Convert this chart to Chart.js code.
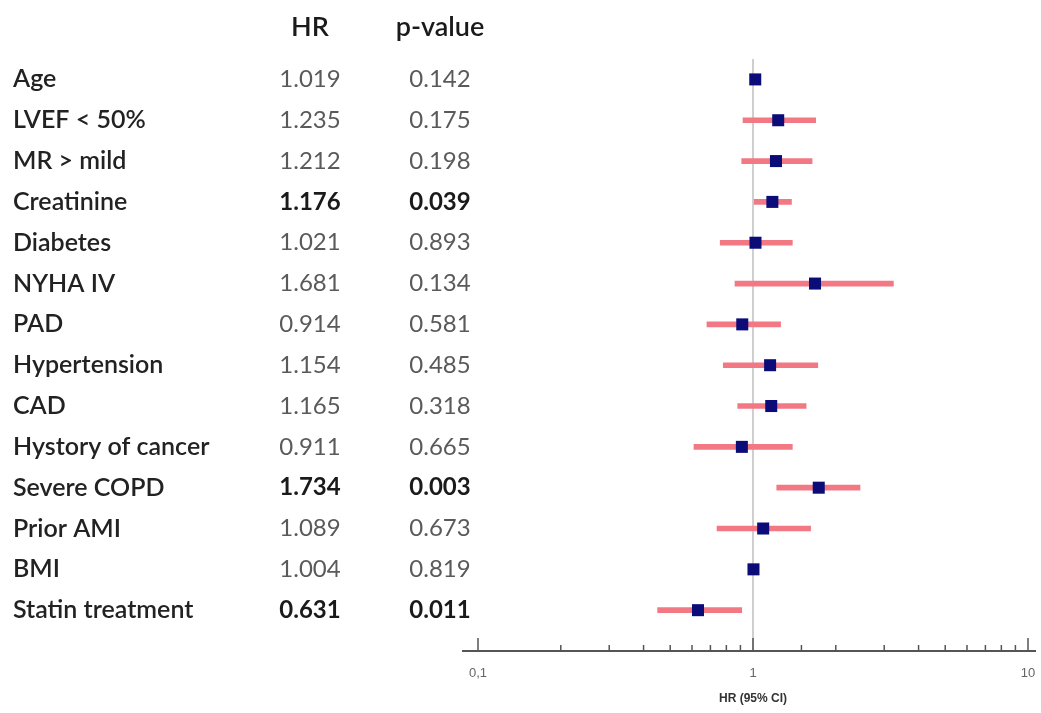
<!DOCTYPE html>
<html>
<head>
<meta charset="utf-8">
<script src="https://cdn.jsdelivr.net/npm/chart.js@4/dist/chart.umd.min.js"></script>
<style>
  html, body { margin: 0; padding: 0; background: #fff; }
  #wrap { width: 1041px; height: 713px; }
</style>
</head>
<body>
<div id="wrap"><canvas id="canvas" width="1041" height="713"></canvas></div>
<script>
'use strict';

// rows, top to bottom
var variables = ['Age', 'LVEF < 50%', 'MR > mild', 'Creatinine', 'Diabetes', 'NYHA IV', 'PAD',
  'Hypertension', 'CAD', 'Hystory of cancer', 'Severe COPD', 'Prior AMI', 'BMI', 'Statin treatment'];
var hrText = ['1.019', '1.235', '1.212', '1.176', '1.021', '1.681', '0.914',
  '1.154', '1.165', '0.911', '1.734', '1.089', '1.004', '0.631'];
var pText = ['0.142', '0.175', '0.198', '0.039', '0.893', '0.134', '0.581',
  '0.485', '0.318', '0.665', '0.003', '0.673', '0.819', '0.011'];
var significant = [false, false, false, true, false, false, false, false, false, false, true, false, false, true];

var hr = [1.019, 1.235, 1.212, 1.176, 1.021, 1.681, 0.914, 1.154, 1.165, 0.911, 1.734, 1.089, 1.004, 0.631];
var ciLow = [1.005, 0.92, 0.91, 1.01, 0.76, 0.86, 0.68, 0.78, 0.88, 0.61, 1.22, 0.74, 0.998, 0.45];
var ciHigh = [1.035, 1.69, 1.64, 1.38, 1.39, 3.24, 1.26, 1.72, 1.56, 1.39, 2.45, 1.62, 1.01, 0.91];

var xTickLabels = { '0.1': '0,1', '1': '1', '10': '10' };

var ciData = [];
var hrData = [];
for (var i = 0; i < variables.length; i++) {
  ciData.push({ x: [ciLow[i], ciHigh[i]], y: i });
  hrData.push({ x: hr[i], y: i });
}

var textFont = 'Lato, "Open Sans", sans-serif';

var forestPlugin = {
  id: 'forest',
  beforeDatasetsDraw: function (chart) {
    var ctx = chart.ctx;
    var xs = chart.scales.x;
    var area = chart.chartArea;
    var x1 = xs.getPixelForValue(1);
    ctx.save();
    // reference line at HR = 1
    ctx.strokeStyle = '#cfcfcf';
    ctx.lineWidth = 2;
    ctx.beginPath();
    ctx.moveTo(x1, area.top);
    ctx.lineTo(x1, area.bottom);
    ctx.stroke();
    // x axis line with upward ticks
    ctx.strokeStyle = '#555';
    ctx.lineWidth = 2;
    ctx.beginPath();
    ctx.moveTo(xs.getPixelForValue(0.1) - 16, area.bottom);
    ctx.lineTo(area.right + 8, area.bottom);
    ctx.stroke();
    ctx.lineWidth = 1.5;
    xs.ticks.forEach(function (t) {
      var px = xs.getPixelForValue(t.value);
      var major = xTickLabels[String(t.value)] !== undefined;
      ctx.beginPath();
      ctx.moveTo(px, area.bottom);
      ctx.lineTo(px, area.bottom - (major ? 13 : 6));
      ctx.stroke();
    });
    ctx.restore();
  },
  afterDraw: function (chart) {
    var ctx = chart.ctx;
    var ys = chart.scales.y;
    ctx.save();
    ctx.textBaseline = 'middle';
    // headers
    ctx.fillStyle = '#1a1a1a';
    ctx.font = '600 27px ' + textFont;
    ctx.textAlign = 'center';
    ctx.fillText('HR', 310, 27);
    ctx.fillText('p-value', 440, 27);
    for (var i = 0; i < variables.length; i++) {
      var y = ys.getPixelForValue(i);
      ctx.textAlign = 'left';
      ctx.fillStyle = '#222';
      ctx.font = '600 25px ' + textFont;
      ctx.fillText(variables[i], 13, y);
      ctx.textAlign = 'center';
      if (significant[i]) {
        ctx.fillStyle = '#1a1a1a';
        ctx.font = 'bold 24px ' + textFont;
      } else {
        ctx.fillStyle = '#5a5a5a';
        ctx.font = '24px ' + textFont;
      }
      ctx.fillText(hrText[i], 310, y);
      ctx.fillText(pText[i], 440, y);
    }
    ctx.restore();
  }
};

var canvas = document.getElementById('canvas');
var ctx = canvas.getContext('2d');

var chart = new Chart(ctx, {
  type: 'bar',
  data: {
    datasets: [{
      type: 'bar',
      indexAxis: 'y',
      label: '95% CI',
      data: ciData,
      backgroundColor: '#f27884',
      borderWidth: 0,
      barThickness: 5,
      order: 2
    }, {
      type: 'scatter',
      label: 'HR',
      data: hrData,
      pointStyle: 'rect',
      pointRadius: 8.5,
      pointBackgroundColor: '#0c0c78',
      pointBorderWidth: 0,
      order: 1
    }]
  },
  plugins: [forestPlugin],
  options: {
    responsive: false,
    animation: false,
    layout: { padding: { left: 478, right: 13, top: 59, bottom: 7 } },
    plugins: {
      legend: { display: false },
      tooltip: { enabled: false }
    },
    scales: {
      x: {
        type: 'logarithmic',
        min: 0.1,
        max: 10,
        offset: false,
        grid: { display: false, drawTicks: true, tickLength: 10 },
        border: { display: false },
        ticks: {
          autoSkip: false,
          maxRotation: 0,
          padding: 5,
          color: '#666',
          font: { family: 'Arial, sans-serif', size: 13 },
          callback: function (value) {
            var lab = xTickLabels[String(value)];
            return lab === undefined ? '' : lab;
          }
        },
        title: {
          display: true,
          text: 'HR (95% CI)',
          color: '#333',
          font: { family: 'Arial, sans-serif', size: 12, weight: 'bold' },
          padding: { top: 5, bottom: 0 }
        }
      },
      y: {
        type: 'linear',
        reverse: true,
        offset: false,
        min: -0.5,
        max: 14,
        display: false
      }
    }
  }
});
</script>
</body>
</html>
